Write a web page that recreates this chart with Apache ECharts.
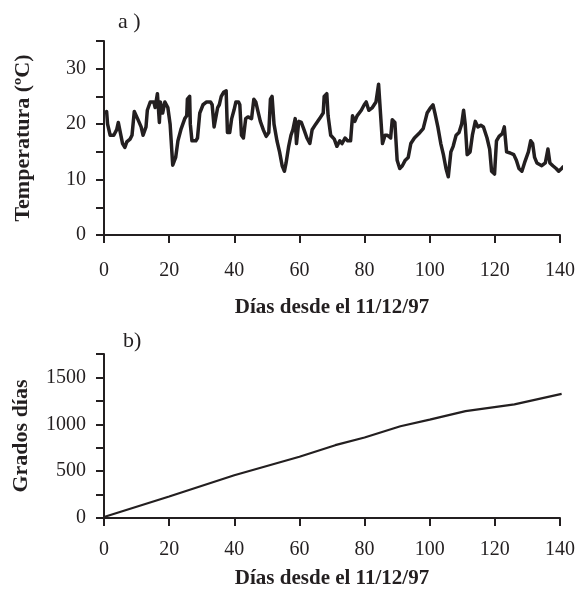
<!DOCTYPE html>
<html>
<head>
<meta charset="utf-8">
<script src="https://cdn.jsdelivr.net/npm/echarts@6/dist/echarts.min.js"></script>
<style>
html,body{margin:0;padding:0;background:#fff;}
#chart{width:578px;height:594px;}
</style>
</head>
<body>
<div id="chart"></div>
<script>
// Panel a) daily temperature
const tempDays = [0.8,1.1,1.9,3,3.9,4.4,5,5.7,6.4,7,8,8.6,9.3,10.3,11.4,12,12.9,13.3,14.2,15.3,15.7,16.4,17,17.3,18,18.7,19.6,20.3,21.1,22,22.7,23.6,24.8,25.4,25.6,26.3,26.5,27,28.2,28.7,29.4,30.4,31.5,32.7,33.2,33.8,34.3,34.9,35.4,36,36.8,37.5,37.9,38.6,39.2,39.9,40.5,41.3,41.7,42.2,42.8,43.5,44.2,45.3,46,46.6,47.2,48,48.9,49.8,50.6,51.1,51.6,52.2,53.1,53.9,54.7,55.4,55.9,56.7,57.4,58,58.7,59.1,59.8,60.6,61.4,62.3,63.2,63.9,65,66.2,67.3,67.6,68.4,68.8,69.6,70.7,71.5,72.4,73.1,74,74.8,75.7,76.3,77,77.7,79,79.9,80.5,81.3,82.4,83.5,84.3,84.9,85.5,86.3,87,88,88.5,89.3,90,90.8,91.6,92.5,93.4,94.2,95.3,97,98,99.2,100.3,101,101.6,102.5,103.4,104.2,105,105.7,106.5,107.2,108.1,109,109.8,110.4,110.9,111.5,112.4,113.1,114,114.8,115.7,116.5,117.6,118.4,119,119.9,120.5,121.3,122.3,122.9,123.6,124.7,125.8,126.6,127.4,128.3,129.1,130.3,131,131.6,132.2,132.9,134.4,135.5,136.3,136.9,137.8,138.8,139.6,140.5,141];
const tempValues = [22.3,20,18,18,19,20.3,18.5,16.5,15.8,16.8,17.3,18,22.3,21,19.5,18,19.5,22.5,24,24,23,25.5,20.3,24,22,24,23,20,12.6,14,17,19,21,21.5,24.5,25,20,17,17,17.5,22,23.5,24,24,23.5,19.5,19.5,23,23.5,25,25.8,26,18.5,18.5,21,22.5,24,24,23.5,18,17.5,21,21.3,21,24.5,24,22.5,20.5,19,17.8,18.5,24.5,25,20,17,15,12.5,11.5,13,16,18,19,21,16.5,20.5,20.3,19,17.5,16.5,19,20,21,22,25,25.5,21.5,18,17.3,16,17,16.5,17.5,17,17,21.5,20.5,21.5,22.5,23.5,24,22.5,23,24,27.2,27,16.5,18,18,17.5,20.8,20.3,13.5,12,12.5,13.5,14,16.5,17.5,18.5,19.2,22,23,23.5,22,19.5,16.5,14.5,12,10.5,15,16,18,18.5,20,22.5,20,14.5,15,18,20.5,19.5,19.8,19.5,17.5,15.5,11.5,11,17,17.8,18.3,19.5,15,14.8,14.5,13.5,12,11.5,13,15,17,16.5,14,13,12.5,13,15.5,13,12.5,12,11.5,12,12.3];

// Panel b) accumulated degree-days
const ddDays = [0,20,40,60,71,80,91,100,111,126,140.5];
const ddValues = [10,230,456,654,777,859,979,1050,1141,1212,1325];

const xTicks = {min:0, max:140, interval:20};
const yTempTicks = {min:0, max:35, interval:5};
const yDDTicks = {min:0, max:1750, interval:250};

const INK = '#231f20';
const SERIF = '"Liberation Serif", "Times New Roman", serif';

function xAxisCfg(gridIndex, margin, nameGap){
  return {
    type:'value', gridIndex, min:xTicks.min, max:xTicks.max, interval:xTicks.interval,
    name:'Días desde el 11/12/97', nameLocation:'middle', nameGap,
    nameTextStyle:{fontFamily:SERIF, fontWeight:'bold', fontSize:21, color:INK},
    axisLine:{show:true, onZero:false, lineStyle:{color:INK, width:2}},
    axisTick:{show:true, inside:false, length:8, lineStyle:{color:INK, width:2}},
    axisLabel:{fontFamily:SERIF, fontSize:20, color:INK, margin},
    splitLine:{show:false}
  };
}
function yAxisCfg(gridIndex, ticks, step, name, nameGap){
  return {
    type:'value', gridIndex, min:ticks.min, max:ticks.max, interval:ticks.interval,
    name, nameLocation:'middle', nameGap, nameRotate:90,
    nameTextStyle:{fontFamily:SERIF, fontWeight:'bold', fontSize:22, color:INK},
    axisLine:{show:true, onZero:false, lineStyle:{color:INK, width:2}},
    axisTick:{show:true, inside:false, length:8, lineStyle:{color:INK, width:2}},
    axisLabel:{fontFamily:SERIF, fontSize:20, color:INK, margin:18,
      formatter:v => (v % step === 0 ? String(v) : '')},
    splitLine:{show:false}
  };
}

const chart = echarts.init(document.getElementById('chart'), null, {renderer:'canvas'});
chart.setOption({
  animation:false,
  backgroundColor:'#ffffff',
  grid:[
    {left:104, top:41, width:463, height:194},
    {left:104, top:354, width:463, height:164}
  ],
  xAxis:[ xAxisCfg(0, 26, 62), xAxisCfg(1, 22, 50) ],
  yAxis:[
    yAxisCfg(0, yTempTicks, 10, 'Temperatura (ºC)', 70),
    yAxisCfg(1, yDDTicks, 500, 'Grados días', 72)
  ],
  graphic:[
    {type:'text', left:118, top:11, style:{text:'a )', font:'22px ' + SERIF, fill:INK}},
    {type:'text', left:123, top:330, style:{text:'b)', font:'22px ' + SERIF, fill:INK}}
  ],
  series:[
    {type:'line', xAxisIndex:0, yAxisIndex:0, clip:false, symbol:'none',
     lineStyle:{color:INK, width:3.5, join:'round', cap:'round'},
     data: tempDays.map((d,i)=>[d, tempValues[i]])},
    {type:'line', xAxisIndex:1, yAxisIndex:1, clip:false, symbol:'none',
     lineStyle:{color:INK, width:2.2},
     data: ddDays.map((d,i)=>[d, ddValues[i]])}
  ]
});
</script>
</body>
</html>
